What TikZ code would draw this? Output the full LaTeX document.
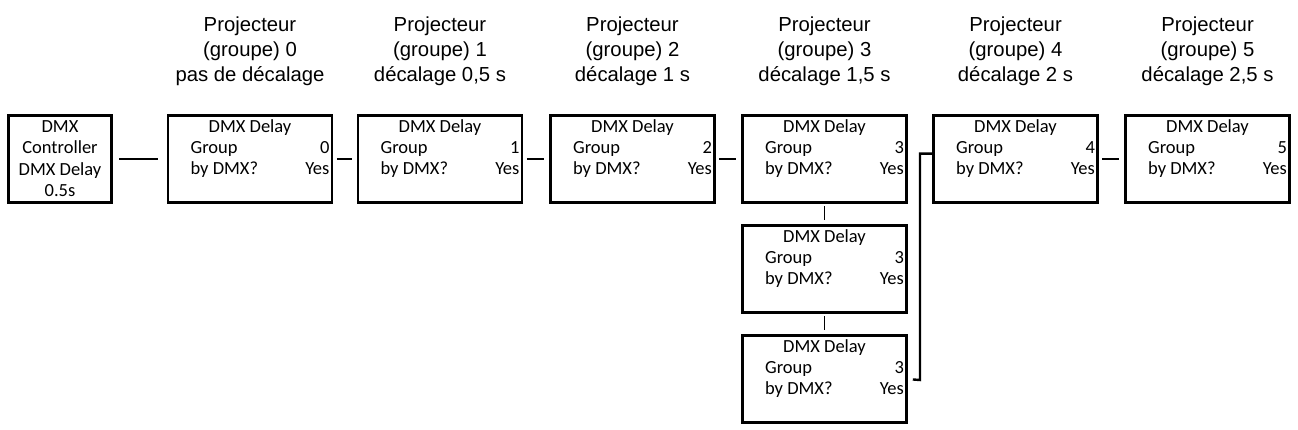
\documentclass[tikz,border=0pt]{standalone}
\usepackage{fontspec}
\setmainfont{Liberation Sans}
\newfontfamily\boxfont{Carlito}
\newfontfamily\titlefont{Liberation Sans}
\tikzset{
  dbox/.style={draw, line width=2.6pt, minimum width=164pt, minimum height=87pt, inner sep=0pt},
  btxt/.style={inner sep=0pt, font=\boxfont\fontsize{18.5}{21}\selectfont},
  ttl/.style={inner sep=0pt, align=center, font=\titlefont\fontsize{20.3}{25}\selectfont},
  conn/.style={line width=2.6pt, shorten <=3.5pt, shorten >=5pt},
  vconn/.style={line width=1.4pt, shorten <=2.5pt, shorten >=4.5pt},
  brk/.style={line width=2.4pt}
}
\newcommand\dmxbox[4]{%
  \node[dbox, anchor=north] (#1) at (#2,#3) {};
  \node[btxt, anchor=base] (#1t) at ([yshift=-17.7pt]#1.north) {DMX Delay};
  \node[btxt, anchor=base west] (#1g) at ([xshift=23.7pt,yshift=-38.7pt]#1.north west) {Group};
  \node[btxt, anchor=base east] (#1v) at ([xshift=-3.7pt,yshift=-38.7pt]#1.north east) {#4};
  \node[btxt, anchor=base west] (#1d) at ([xshift=23.7pt,yshift=-59.7pt]#1.north west) {by DMX?};
  \node[btxt, anchor=base east] (#1y) at ([xshift=-3.7pt,yshift=-59.7pt]#1.north east) {Yes};
}
\begin{document}
\begin{tikzpicture}[x=1pt,y=-1pt]
\useasboundingbox (0,0) rectangle (1298,429);
% controller
\node[dbox, minimum width=103.4pt, anchor=north] (ctl) at (60,114.3) {};
\node[btxt, anchor=base] (ctl1) at ([yshift=-17.7pt]ctl.north) {DMX};
\node[btxt, anchor=base] (ctl2) at ([yshift=-39.2pt]ctl.north) {Controller};
\node[btxt, anchor=base] (ctl3) at ([yshift=-60.7pt]ctl.north) {DMX Delay};
\node[btxt, anchor=base] (ctl4) at ([yshift=-82.2pt]ctl.north) {0.5s};
% boxes
\dmxbox{b0}{250}{114.3}{0}
\dmxbox{b1}{440}{114.3}{1}
\dmxbox{b2}{632.5}{114.3}{2}
\dmxbox{b3}{824.5}{114.3}{3}
\dmxbox{b3b}{824.5}{224.3}{3}
\dmxbox{b3c}{824.5}{334.3}{3}
\dmxbox{b4}{1015.5}{114.3}{4}
\dmxbox{b5}{1207.5}{114.3}{5}
% titles
\node[ttl, anchor=north] (t0) at (250,16.5) {Projecteur\\(groupe) 0\\pas de décalage};
\node[ttl, anchor=north] (t1) at (440,16.5) {Projecteur\\(groupe) 1\\décalage 0,5 s};
\node[ttl, anchor=north] (t2) at (632.5,16.5) {Projecteur\\(groupe) 2\\décalage 1 s};
\node[ttl, anchor=north] (t3) at (824.5,16.5) {Projecteur\\(groupe) 3\\décalage 1,5 s};
\node[ttl, anchor=north] (t4) at (1015.5,16.5) {Projecteur\\(groupe) 4\\décalage 2 s};
\node[ttl, anchor=north] (t5) at (1207.5,16.5) {Projecteur\\(groupe) 5\\décalage 2,5 s};
% connectors
\draw[conn, shorten <=6.3pt, shorten >=8.3pt] (ctl) -- (b0);
\draw[conn] (b0) -- (b1);
\draw[conn] (b1) -- (b2);
\draw[conn] (b2) -- (b3);
\draw[conn] (b4) -- (b5);
\draw[vconn] (b3) -- (b3b);
\draw[vconn] (b3b) -- (b3c);
\coordinate (bk) at (920,380);
\draw[brk, shorten <=5pt] (b3c.east) -- (bk) |- ([yshift=5.5pt]b4.west);
\end{tikzpicture}
\end{document}
